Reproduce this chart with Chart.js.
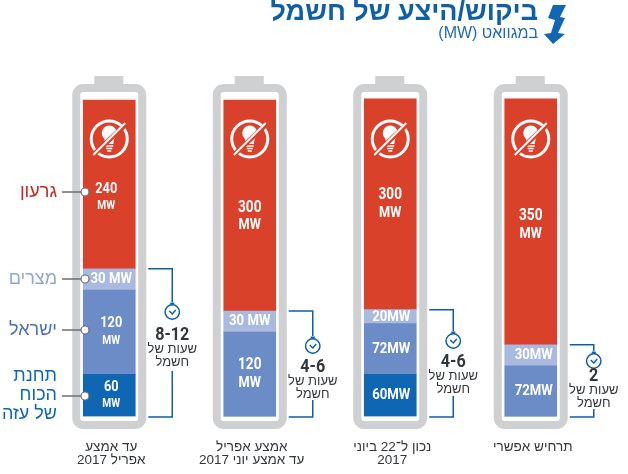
<!DOCTYPE html>
<html lang="he">
<head>
<meta charset="utf-8">
<style>html,body{margin:0;padding:0;background:#fff}canvas{display:block}</style>
<script src="https://cdn.jsdelivr.net/npm/chart.js@4"></script>
</head>
<body>
<canvas id="c" width="628" height="474" dir="rtl"></canvas>
<script>
const categories = [['עד אמצע','אפריל 2017'],['אמצע אפריל','עד אמצע יוני 2017'],['נכון ל־22 ביוני','2017'],['תרחיש אפשרי']];
const gaza = [60,0,60,0];
const israel = [120,120,72,72];
const egypt = [30,30,20,30];
const deficit = [240,300,300,350];
const hours = ['8-12','4-6','4-6','2'];
const hoursCaption = ['שעות של','חשמל'];
const titleText = 'ביקוש/היצע של חשמל';
const subtitleText = 'במגוואט (MW)';
const seriesNames = ['תחנת הכוח של עזה','ישראל','מצרים','גרעון'];
const gazaLabels = [['60','MW'],null,['60MW'],null];
const israelLabels = [['120','MW'],['120','MW'],['72MW'],['72MW']];
const egyptLabels = [['30 MW'],['30 MW'],['20MW'],['30MW']];
const deficitLabels = [['240','MW'],['300','MW'],['300','MW'],['350','MW']];

const RED='#d9412a', LIGHT='#a9b9df', MID='#6b8cc7', DARK='#0f67b4', GREY='#cfd0d2', LINE='#0f5fa8', HEB='"Liberation Sans","DejaVu Sans",sans-serif', NUM='Roboto,"Liberation Sans",sans-serif';

function txt(ctx,s,x,y,font,color,align,sx,dir){
  ctx.save();ctx.font=font;ctx.fillStyle=color;ctx.textAlign=align||'center';ctx.textBaseline='middle';
  ctx.direction=dir||'rtl';
  ctx.translate(x,y);ctx.scale(sx||1,1);ctx.fillText(s,0,0);ctx.restore();
}
function bulb(ctx,cx,cy){
  ctx.save();ctx.strokeStyle='#fff';ctx.fillStyle='#fff';
  ctx.lineWidth=3;ctx.beginPath();ctx.arc(cx,cy,18,0,Math.PI*2);ctx.stroke();
  ctx.beginPath();ctx.arc(cx,cy-6,7.5,0,Math.PI*2);ctx.fill();
  ctx.beginPath();ctx.moveTo(cx-5,cy-1);ctx.lineTo(cx+5,cy-1);ctx.lineTo(cx+4,cy+5);ctx.lineTo(cx-4,cy+5);ctx.closePath();ctx.fill();
  ctx.lineWidth=1.5;
  [7,9.5,12].forEach((d,i)=>{ctx.beginPath();ctx.moveTo(cx-4+i,cy+d);ctx.lineTo(cx+4-i,cy+d);ctx.stroke();});
  ctx.strokeStyle=RED;ctx.lineWidth=5;ctx.beginPath();ctx.moveTo(cx-15,cy+15);ctx.lineTo(cx+17,cy-15);ctx.stroke();
  ctx.strokeStyle='#fff';ctx.lineWidth=2;ctx.beginPath();ctx.moveTo(cx-16,cy+16);ctx.lineTo(cx+16,cy-16);ctx.stroke();
  ctx.restore();
}
function clock(ctx,cx,cy){
  ctx.save();ctx.strokeStyle=LINE;ctx.lineWidth=1.5;
  ctx.beginPath();ctx.arc(cx,cy,7.2,0,Math.PI*2);ctx.stroke();
  ctx.beginPath();ctx.moveTo(cx-3,cy-1);ctx.lineTo(cx,cy+2);ctx.lineTo(cx+3.5,cy-2);ctx.stroke();
  ctx.lineWidth=2;ctx.beginPath();ctx.moveTo(cx-2,cy-8.5);ctx.lineTo(cx+2,cy-8.5);ctx.stroke();
  ctx.restore();
}
function rr(ctx,x,y,w,h,r){ctx.beginPath();ctx.roundRect(x,y,w,h,r);}

const batteryPlugin={id:'battery',beforeDatasetsDraw(ch){
  const ctx=ch.ctx,xs=ch.scales.x;
  categories.forEach((_,i)=>{
    const x=xs.getPixelForValue(i);
    ctx.save();ctx.fillStyle=GREY;
    ctx.fillRect(x-15,76,29,9);
    ctx.strokeStyle=GREY;ctx.lineWidth=8;rr(ctx,x-33,88,66,337,7);ctx.stroke();
    ctx.restore();
  });
}};

const overlayPlugin={id:'overlay',afterDatasetsDraw(ch){
  const ctx=ch.ctx,xs=ch.scales.x,ys=ch.scales.y;
  // header
  txt(ctx,titleText,538,13,'bold 27px '+HEB,'#0f5fa8','right');
  txt(ctx,subtitleText,538,34,'16px '+HEB,'#1f6ab0','right');
  ctx.save();ctx.fillStyle='#1267b5';ctx.beginPath();
  [[566,5],[560,17],[565,18],[558,33],[565,34],[553,44],[544,34],[551,33],[555,20],[548,18],[553,5]].forEach((p,i)=>i?ctx.lineTo(p[0],p[1]):ctx.moveTo(p[0],p[1]));
  ctx.closePath();ctx.fill();ctx.restore();

  const metas=[0,1,2,3].map(d=>ch.getDatasetMeta(d));
  const labelSets=[gazaLabels,israelLabels,egyptLabels,deficitLabels];
  // per-column, per-series nudges of the in-bar labels
  const dxs=[[2,2,2,-3],[0,0,0,0],[1,1,1,0],[0,3,3,0]];
  const dys=[[0,0,0,13],[0,0,0,11],[0,0,0,0],[0,0,0,3]];
  categories.forEach((_,i)=>{
    labelSets.forEach((set,d)=>{
      const lab=set[i]; if(!lab) return;
      const el=metas[d].data[i];
      const x=el.x+dxs[i][d], y=(el.y+el.base)/2+dys[i][d];
      const two=lab.length===2;
      if(two){
        const big=i>0;
        txt(ctx,lab[0],x,y-(big?9:8.5),'bold '+(big?16:15)+'px '+NUM,'#fff','center',0.85,'ltr');
        txt(ctx,lab[1],x,y+(big?9:8.5),'bold '+(big?15:12)+'px '+NUM,'#fff','center',0.85,'ltr');
      }else{
        txt(ctx,lab[0],x,y,'bold 15.5px '+NUM,'#fff','center',0.85,'ltr');
      }
    });
    // battery decoration
    const cx=xs.getPixelForValue(i);
    bulb(ctx,cx,139);
    // bracket
    const top=ys.getPixelForValue(gaza[i]+israel[i]+egypt[i]);
    const bot=ys.getPixelForValue(0)+0.5;
    const x0=cx+39,x1=cx+63;
    const cyClock=[312,346,341,361][i];
    const numY=cyClock+[23,21,21,15][i];
    ctx.save();ctx.strokeStyle=LINE;ctx.lineWidth=1.5;ctx.beginPath();
    ctx.moveTo(x0,top);ctx.lineTo(x1,top);ctx.lineTo(x1,cyClock-10);
    ctx.moveTo(x1,numY+[36,33,34,33][i]);ctx.lineTo(x1,bot);ctx.lineTo(x0,bot);ctx.stroke();ctx.restore();
    clock(ctx,x1,cyClock);
    txt(ctx,hours[i],x1,numY,'bold 19px '+NUM,'#33363b','center',0.85,'ltr');
    txt(ctx,hoursCaption[0],x1,numY+14,'13px '+HEB,'#33363b');
    txt(ctx,hoursCaption[1],x1,numY+27,'13px '+HEB,'#33363b');
  });
  // series labels beside first column
  const names=[[['תחנת','הכוח','של עזה'],DARK,396,0],[['ישראל'],'#4a72b8',330,1],[['מצרים'],'#8fa5d6',279,2],[['גרעון'],'#c8281e',192,3]];
  names.forEach(([lines,col,y])=>{
    ctx.save();ctx.strokeStyle='#6d6e71';ctx.lineWidth=1.5;ctx.beginPath();ctx.moveTo(62,y);ctx.lineTo(82,y);ctx.stroke();
    ctx.fillStyle='#fff';ctx.lineWidth=1.2;ctx.beginPath();ctx.arc(85,y,4,0,Math.PI*2);ctx.fill();ctx.stroke();ctx.restore();
    lines.forEach((l,k)=>txt(ctx,l,57,y+(k-(lines.length-1)/2)*19-(lines.length>1?1:0),'18px '+HEB,col,'right'));
  });
}};

new Chart(document.getElementById('c'),{
  type:'bar',
  data:{labels:categories,datasets:[
    {label:seriesNames[0],data:gaza,backgroundColor:DARK},
    {label:seriesNames[1],data:israel,backgroundColor:MID},
    {label:seriesNames[2],data:egypt,backgroundColor:LIGHT},
    {label:seriesNames[3],data:deficit,backgroundColor:RED}
  ]},
  plugins:[batteryPlugin,overlayPlugin],
  options:{
    responsive:false,animation:false,
    layout:{padding:{left:39,right:27,top:65,bottom:0}},
    barThickness:52,
    plugins:{legend:{display:false},title:{display:false},tooltip:{enabled:false}},
    scales:{
      x:{stacked:true,grid:{display:false,drawBorder:false},border:{display:false},
         afterFit(s){s.height=57.5;},
         ticks:{padding:16,maxRotation:0,autoSkip:false,labelOffset:2,color:'#33363b',font:{family:'"Liberation Sans","DejaVu Sans",sans-serif',size:13.5,lineHeight:1.0}}},
      y:{stacked:true,display:false,min:0,max:500}
    }
  }
});
</script>
</body>
</html>
